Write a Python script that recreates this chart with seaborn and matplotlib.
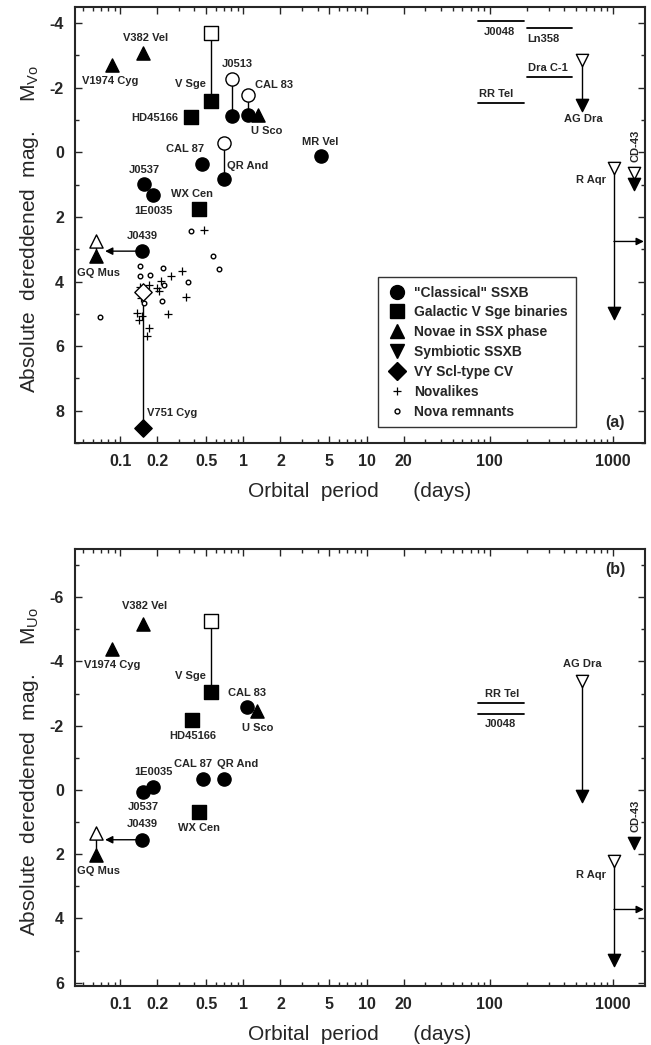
import numpy as np
import pandas as pd
import matplotlib
matplotlib.use("Agg")
import matplotlib.pyplot as plt
import seaborn as sns
from matplotlib.lines import Line2D
from matplotlib.ticker import FixedLocator, NullFormatter, MultipleLocator

# ---------------- DATA: panel (a)  (period in days, absolute mag M_V0) ----------------
a_cls_names = ["J0513", "CAL 83", "CAL 87", "QR And", "MR Vel", "J0537", "1E0035", "J0439"]
a_cls_P = [0.81, 1.10, 0.46, 0.70, 4.23, 0.157, 0.186, 0.150]
a_cls_M = [-1.11, -1.17, 0.37, 0.84, 0.12, 0.97, 1.31, 3.06]
a_cls_open_P = [0.81, 1.10, 0.70]
a_cls_open_M = [-2.26, -1.76, -0.30]

a_sq_names = ["V Sge", "HD45166", "WX Cen"]
a_sq_P = [0.55, 0.377, 0.44]
a_sq_M = [-1.60, -1.08, 1.74]
a_sq_open_P = [0.55]
a_sq_open_M = [-3.70]

a_nov_names = ["V382 Vel", "V1974 Cyg", "U Sco", "GQ Mus"]
a_nov_P = [0.154, 0.086, 1.32, 0.064]
a_nov_M = [-3.07, -2.69, -1.17, 3.22]
a_nov_open_P = [0.064]
a_nov_open_M = [2.75]

a_sym_names = ["AG Dra", "R Aqr", "CD-43"]
a_sym_P = [560, 1019, 1480]
a_sym_M = [-1.45, 4.98, 0.97]
a_sym_open_P = [560, 1019, 1480]
a_sym_open_M = [-2.85, 0.50, 0.65]

a_vy_P = [0.154]
a_vy_M = [8.54]
a_vy_open_P = [0.154]
a_vy_open_M = [4.33]

a_nl_P = [0.48, 0.32, 0.26, 0.215, 0.20, 0.207, 0.146, 0.172, 0.148, 0.34, 0.138, 0.151, 0.143, 0.245, 0.170, 0.166]
a_nl_M = [2.40, 3.68, 3.82, 3.99, 4.20, 4.30, 4.18, 4.12, 4.52, 4.49, 4.98, 5.08, 5.20, 5.02, 5.45, 5.70]

a_nr_P = [0.377, 0.57, 0.64, 0.146, 0.146, 0.175, 0.224, 0.228, 0.357, 0.219, 0.157, 0.068]
a_nr_M = [2.45, 3.21, 3.61, 3.52, 3.83, 3.81, 3.59, 4.11, 4.00, 4.61, 4.67, 5.10]

# symbiotics with uncertain period: horizontal bars (P range, M)
a_bar_names = ["J0048", "Ln358", "Dra C-1", "RR Tel"]
a_bar_P1 = [80, 200, 200, 80]
a_bar_P2 = [190, 464, 464, 190]
a_bar_M = [-4.06, -3.84, -2.33, -1.53]

a_J0439_arrow_tip = 0.0755
a_RAqr_arrow_M = 2.76
a_RAqr_arrow_tip = 1780

# ---------------- DATA: panel (b)  (period in days, absolute mag M_U0) ----------------
b_cls_names = ["CAL 83", "1E0035", "J0537", "CAL 87", "QR And", "J0439"]
b_cls_P = [1.08, 0.186, 0.154, 0.47, 0.70, 0.150]
b_cls_M = [-2.57, -0.09, 0.06, -0.34, -0.34, 1.55]

b_sq_names = ["V Sge", "HD45166", "WX Cen"]
b_sq_P = [0.55, 0.385, 0.44]
b_sq_M = [-3.06, -2.17, 0.68]
b_sq_open_P = [0.55]
b_sq_open_M = [-5.26]

b_nov_names = ["V382 Vel", "V1974 Cyg", "U Sco", "GQ Mus"]
b_nov_P = [0.154, 0.086, 1.30, 0.064]
b_nov_M = [-5.17, -4.40, -2.45, 2.01]
b_nov_open_P = [0.064]
b_nov_open_M = [1.33]

b_sym_names = ["AG Dra", "R Aqr", "CD-43"]
b_sym_P = [560, 1019, 1480]
b_sym_M = [0.20, 5.30, 1.65]
b_sym_open_P = [560, 1019]
b_sym_open_M = [-3.40, 2.20]

b_bar_names = ["RR Tel", "J0048"]
b_bar_P1 = [80, 80]
b_bar_P2 = [190, 190]
b_bar_M = [-2.70, -2.35]

b_J0439_arrow_tip = 0.0755
b_RAqr_arrow_M = 3.72
b_RAqr_arrow_tip = 1780

x_ticks = [0.1, 0.2, 0.5, 1, 2, 5, 10, 20, 100, 1000]
x_ticklabels = ["0.1", "0.2", "0.5", "1", "2", "5", "10", "20", "100", "1000"]

# ---------------- STYLE ----------------
sns.set_style("ticks")
plt.rcParams["font.family"] = ["Liberation Sans", "DejaVu Sans"]
plt.rcParams["axes.unicode_minus"] = False
plt.rcParams["mathtext.fontset"] = "custom"
plt.rcParams["mathtext.rm"] = "Liberation Sans"

fig = plt.figure(figsize=(6.51, 10.45), dpi=100)
axA = fig.add_axes([0.1152, 0.5761, 0.8756, 0.4172])
axB = fig.add_axes([0.1152, 0.0565, 0.8756, 0.4182])

S_BIG = 90
S_DIA = 78
S_TRI = 90
S_TRID = 78
LW = 1.0


def scat(ax, P, M, marker, s, filled=True):
    df = pd.DataFrame({"P": P, "M": M})
    if marker == "+":
        sns.scatterplot(data=df, x="P", y="M", marker="+", s=s, color="black",
                        linewidth=0.9, ax=ax, zorder=4, legend=False)
    else:
        sns.scatterplot(data=df, x="P", y="M", marker=marker, s=s,
                        color="black" if filled else "white", edgecolor="black",
                        linewidth=LW, ax=ax, zorder=5, legend=False)


def connect(ax, P_open, M_open, P_fill, M_fill):
    for po, mo in zip(P_open, M_open):
        for pf, mf in zip(P_fill, M_fill):
            if abs(pf - po) < 1e-9:
                ax.plot([po, pf], [mo, mf], color="black", lw=1.0, zorder=2)


def label(ax, txt, x, y, dx, dy, ha="center", va="center", rot=0, size=8):
    ax.annotate(txt, (x, y), xytext=(dx, dy), textcoords="offset points",
                ha=ha, va=va, fontsize=size, fontweight="bold", rotation=rot)


def hbars(ax, P1, P2, M):
    for p1, p2, m in zip(P1, P2, M):
        ax.plot([p1, p2], [m, m], color="black", lw=1.3, zorder=2)


def harrow(ax, x0, x1, y):
    ax.annotate("", xy=(x1, y), xytext=(x0, y),
                arrowprops=dict(arrowstyle="-|>", color="black", lw=1.0,
                                mutation_scale=11, shrinkA=0, shrinkB=0), zorder=3)


def style_axes(ax, ylim, ylab, tag):
    ax.set_xscale("log")
    ax.set_xlim(0.043, 1820)
    ax.set_ylim(*ylim)
    ax.xaxis.set_major_locator(FixedLocator(x_ticks))
    ax.set_xticklabels(x_ticklabels)
    minors = [m * 10.0 ** e for e in range(-2, 4) for m in range(2, 10)]
    minors = [v for v in minors if v not in x_ticks]
    ax.xaxis.set_minor_locator(FixedLocator(minors))
    ax.xaxis.set_minor_formatter(NullFormatter())
    ax.yaxis.set_major_locator(MultipleLocator(2))
    ax.yaxis.set_minor_locator(MultipleLocator(1))
    ax.tick_params(which="both", direction="in", top=True, right=True, width=1.0)
    ax.tick_params(which="major", length=5, labelsize=11.5, pad=8)
    ax.tick_params(which="minor", length=3)
    for lab in ax.get_xticklabels() + ax.get_yticklabels():
        lab.set_fontweight("bold")
    for sp in ax.spines.values():
        sp.set_linewidth(1.5)
        sp.set_visible(True)
    ax.set_xlabel("Orbital  period      (days)", fontsize=15, labelpad=9)
    ax.set_ylabel(ylab, fontsize=15)
    ax.yaxis.set_label_coords(-0.06, 0.49)
    if tag == "(a)":
        ax.text(0.965, 0.03, tag, transform=ax.transAxes, ha="right", va="bottom",
                fontsize=11.5, fontweight="bold")
    else:
        ax.text(0.965, 0.97, tag, transform=ax.transAxes, ha="right", va="top",
                fontsize=11.5, fontweight="bold")


# ---------------- PANEL (a) ----------------
ax = axA
connect(ax, a_cls_open_P, a_cls_open_M, a_cls_P, a_cls_M)
connect(ax, a_sq_open_P, a_sq_open_M, a_sq_P, a_sq_M)
connect(ax, a_nov_open_P, a_nov_open_M, a_nov_P, a_nov_M)
connect(ax, a_sym_open_P, a_sym_open_M, a_sym_P, a_sym_M)
connect(ax, a_vy_open_P, a_vy_open_M, a_vy_P, a_vy_M)
hbars(ax, a_bar_P1, a_bar_P2, a_bar_M)
harrow(ax, a_cls_P[7], a_J0439_arrow_tip, a_cls_M[7])
harrow(ax, a_sym_P[1], a_RAqr_arrow_tip, a_RAqr_arrow_M)

scat(ax, a_nr_P, a_nr_M, "o", 11, filled=False)
scat(ax, a_nl_P, a_nl_M, "+", 32)
scat(ax, a_cls_open_P, a_cls_open_M, "o", S_BIG, filled=False)
scat(ax, a_cls_P, a_cls_M, "o", S_BIG)
scat(ax, a_sq_open_P, a_sq_open_M, "s", S_BIG, filled=False)
scat(ax, a_sq_P, a_sq_M, "s", S_BIG)
scat(ax, a_nov_open_P, a_nov_open_M, "^", S_TRI, filled=False)
scat(ax, a_nov_P, a_nov_M, "^", S_TRI)
scat(ax, a_sym_open_P, a_sym_open_M, "v", S_TRID, filled=False)
scat(ax, a_sym_P, a_sym_M, "v", S_TRID)
scat(ax, a_vy_open_P, a_vy_open_M, "D", S_DIA, filled=False)
scat(ax, a_vy_P, a_vy_M, "D", S_DIA)

# labels (a)
lab_a_cls = {"J0513": (a_cls_open_P[0], a_cls_open_M[0], 3.6, 10.8),
             "CAL 83": (a_cls_open_P[1], a_cls_open_M[1], 18.7, 7.2),
             "CAL 87": (a_cls_P[2], a_cls_M[2], -12, 10.8),
             "QR And": (a_cls_P[3], a_cls_M[3], 17, 9.4),
             "MR Vel": (a_cls_P[4], a_cls_M[4], 0, 10),
             "J0537": (a_cls_P[5], a_cls_M[5], 0, 10),
             "1E0035": (a_cls_P[6], a_cls_M[6], 0, -12),
             "J0439": (a_cls_P[7], a_cls_M[7], 0, 10.8)}
for k, (x, y, dx, dy) in lab_a_cls.items():
    label(ax, k, x, y, dx, dy)
label(ax, "V Sge", a_sq_P[0], a_sq_M[0], -15, 12)
label(ax, "HD45166", a_sq_P[1], a_sq_M[1], -9.4, -0.7, ha="right")
label(ax, "WX Cen", a_sq_P[2], a_sq_M[2], -5, 10.8)
label(ax, "V382 Vel", a_nov_P[0], a_nov_M[0], 1.4, 10.8)
label(ax, "V1974 Cyg", a_nov_P[1], a_nov_M[1], -1.4, -11.5)
label(ax, "U Sco", a_nov_P[2], a_nov_M[2], 5.8, -11.5)
label(ax, "GQ Mus", a_nov_P[3], a_nov_M[3], 1.5, -12)
label(ax, "V751 Cyg", a_vy_P[0], a_vy_M[0], 21, 10.8)
label(ax, "AG Dra", a_sym_P[0], a_sym_M[0], 0.7, -9.4)
label(ax, "R Aqr", a_sym_open_P[1], a_sym_open_M[1], -5.8, -8.6, ha="right")
label(ax, "CD-43", a_sym_open_P[2], a_sym_open_M[2], 1.4, 20, rot=90)
# bar labels
label(ax, "J0048", a_bar_P1[0], a_bar_M[0], 4, -4, ha="left", va="top")
label(ax, "Ln358", a_bar_P1[1], a_bar_M[1], 0, -4, ha="left", va="top")
label(ax, "Dra C-1", a_bar_P1[2], a_bar_M[2], 1, 3, ha="left", va="bottom")
label(ax, "RR Tel", a_bar_P1[3], a_bar_M[3], 1, 3, ha="left", va="bottom")

style_axes(ax, (9.0, -4.5), "Absolute  dereddened  mag.     $\\mathregular{M_{Vo}}$", "(a)")

handles = [
    Line2D([], [], ls="none", marker="o", ms=10, mfc="black", mec="black"),
    Line2D([], [], ls="none", marker="s", ms=9.5, mfc="black", mec="black"),
    Line2D([], [], ls="none", marker="^", ms=10, mfc="black", mec="black"),
    Line2D([], [], ls="none", marker="v", ms=10, mfc="black", mec="black"),
    Line2D([], [], ls="none", marker="D", ms=9, mfc="black", mec="black"),
    Line2D([], [], ls="none", marker="+", ms=6, mec="black", mew=0.9),
    Line2D([], [], ls="none", marker="o", ms=3.5, mfc="white", mec="black"),
]
names = ['"Classical" SSXB', "Galactic V Sge binaries", "Novae in SSX phase",
         "Symbiotic SSXB", "VY Scl-type CV", "Novalikes", "Nova remnants"]
leg = ax.legend(handles, names, loc="lower left", bbox_to_anchor=(0.532, 0.037),
                borderaxespad=0, frameon=True, fancybox=False, edgecolor="black",
                prop={"size": 10, "weight": "bold"}, handletextpad=0.5,
                labelspacing=0.42, handlelength=1.5, borderpad=0.6)
leg.get_frame().set_linewidth(1.0)

# ---------------- PANEL (b) ----------------
ax = axB
connect(ax, b_sq_open_P, b_sq_open_M, b_sq_P, b_sq_M)
connect(ax, b_nov_open_P, b_nov_open_M, b_nov_P, b_nov_M)
connect(ax, b_sym_open_P, b_sym_open_M, b_sym_P, b_sym_M)
hbars(ax, b_bar_P1, b_bar_P2, b_bar_M)
harrow(ax, b_cls_P[5], b_J0439_arrow_tip, b_cls_M[5])
harrow(ax, b_sym_P[1], b_RAqr_arrow_tip, b_RAqr_arrow_M)

scat(ax, b_cls_P, b_cls_M, "o", S_BIG)
scat(ax, b_sq_open_P, b_sq_open_M, "s", S_BIG, filled=False)
scat(ax, b_sq_P, b_sq_M, "s", S_BIG)
scat(ax, b_nov_open_P, b_nov_open_M, "^", S_TRI, filled=False)
scat(ax, b_nov_P, b_nov_M, "^", S_TRI)
scat(ax, b_sym_open_P, b_sym_open_M, "v", S_TRID, filled=False)
scat(ax, b_sym_P, b_sym_M, "v", S_TRID)

lab_b_cls = {"CAL 83": (0, 10), "1E0035": (0, 10.8), "J0537": (0, -10.8),
             "CAL 87": (-7, 10.8), "QR And": (9.4, 10.8), "J0439": (0, 11.5)}
for i, k in enumerate(b_cls_names):
    dx, dy = lab_b_cls[k]
    label(ax, k, b_cls_P[i], b_cls_M[i], dx, dy)
label(ax, "V Sge", b_sq_P[0], b_sq_M[0], -15, 11.5)
label(ax, "HD45166", b_sq_P[1], b_sq_M[1], 0, -11.5)
label(ax, "WX Cen", b_sq_P[2], b_sq_M[2], 0, -12)
label(ax, "V382 Vel", b_nov_P[0], b_nov_M[0], 0.7, 13)
label(ax, "V1974 Cyg", b_nov_P[1], b_nov_M[1], 0, -11.5)
label(ax, "U Sco", b_nov_P[2], b_nov_M[2], 0, -12)
label(ax, "GQ Mus", b_nov_P[3], b_nov_M[3], 1.5, -12)
label(ax, "AG Dra", b_sym_open_P[0], b_sym_open_M[0], 0, 12)
label(ax, "R Aqr", b_sym_open_P[1], b_sym_open_M[1], -5.8, -10, ha="right")
label(ax, "CD-43", b_sym_P[2], b_sym_M[2], 1.4, 19.4, rot=90)
label(ax, "RR Tel", b_bar_P1[0], b_bar_M[0], 5, 3, ha="left", va="bottom")
label(ax, "J0048", b_bar_P1[1], b_bar_M[1], 5, -3, ha="left", va="top")

style_axes(ax, (6.1, -7.5), "Absolute  dereddened  mag.     $\\mathregular{M_{Uo}}$", "(b)")

fig.savefig("out.png", dpi=100)
